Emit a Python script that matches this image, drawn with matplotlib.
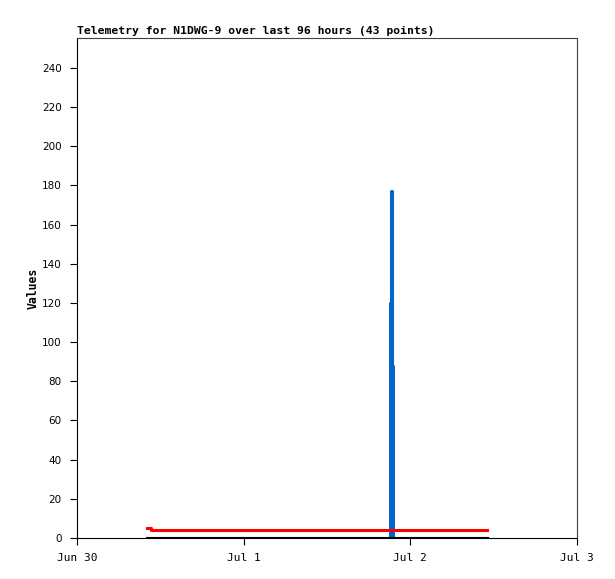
import matplotlib
matplotlib.use('Agg')
from matplotlib import pyplot as plt
import datetime as dt

# hours after Jun 30 00:00
red_hours = [10.1, 10.6, 59.0]
red_vals = [5, 4, 4]
black_hours = [10.1, 59.0]
black_vals = [0, 0]
blue_hours = [10.1, 45.05, 45.2, 45.34, 45.48, 59.0]
blue_vals = [0, 120, 177, 88, 0, 0]

x_ticks = ['Jun 30', 'Jul 1', 'Jul 2', 'Jul 3']
y_ticks = list(range(0, 241, 20))

start = dt.datetime(2024, 6, 30)
to_dt = lambda hs: [start + dt.timedelta(hours=h) for h in hs]

fig = plt.figure(figsize=(6.15, 5.79), dpi=100)
ax = fig.add_axes([77/615, 41/579, 500/615, 500/579])

ax.step(to_dt(blue_hours), blue_vals, where='post', color='#0066cc', lw=2.2)
ax.step(to_dt(red_hours), red_vals, where='post', color='#ff0000', lw=2.2)
ax.step(to_dt(black_hours), black_vals, where='post', color='#000000', lw=2.2)

ax.set_xlim(start, start + dt.timedelta(days=3))
ax.set_ylim(0, 255.3)
ax.set_xticks([start + dt.timedelta(days=i) for i in range(4)])
ax.set_xticklabels(x_ticks, family='DejaVu Sans Mono', fontsize=8)
ax.set_yticks(y_ticks)
ax.set_yticklabels([str(v) for v in y_ticks], fontsize=7.5)
ax.tick_params(axis='both', direction='out', length=5, width=0.8, color='black', pad=6)

for s in ['left', 'bottom']:
    ax.spines[s].set_color('black')
for s in ['top', 'right']:
    ax.spines[s].set_color('#404040')
for s in ax.spines.values():
    s.set_linewidth(0.8)

ax.set_ylabel('Values', family='DejaVu Sans Mono', fontweight='bold', fontsize=8.3, labelpad=2)
ax.set_title('Telemetry for N1DWG-9 over last 96 hours (43 points)', loc='left',
             family='DejaVu Sans Mono', fontweight='bold', fontsize=8.2, pad=3)

plt.savefig('out.png', dpi=100)
